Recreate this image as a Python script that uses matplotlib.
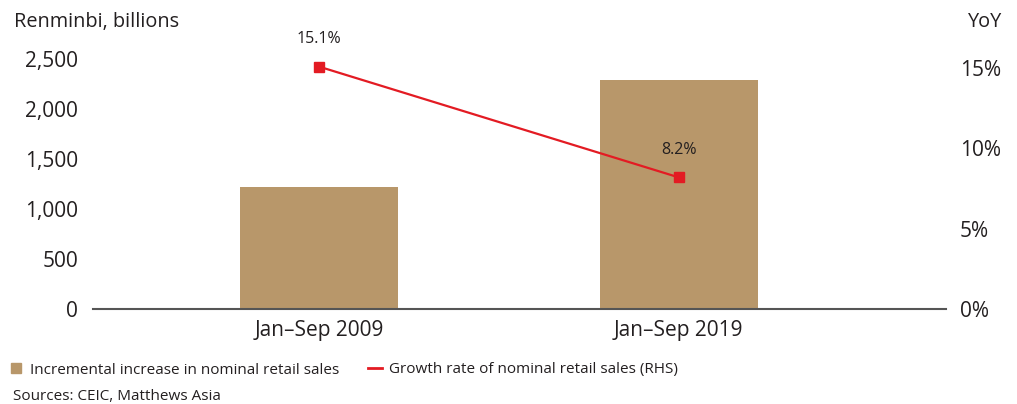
import matplotlib.pyplot as plt
from matplotlib.lines import Line2D

plt.rcParams['font.family'] = ['Open Sans', 'DejaVu Sans']

# data
periods = ['Jan\u2013Sep 2009', 'Jan\u2013Sep 2019']
increase = [1220, 2285]          # renminbi, billions
growth = [15.1, 8.2]             # YoY %
left_ticks = [0, 500, 1000, 1500, 2000, 2500]
right_ticks = [0, 5, 10, 15]

bar_color = '#B8976A'
line_color = '#E31B23'
text_color = '#231F20'

fig = plt.figure(figsize=(10.17, 4.04), dpi=100)
ax = fig.add_axes([0.0914, 0.235, 0.8386, 0.62])
x = list(range(len(periods)))

ax.bar(x, increase, width=0.44, color=bar_color, zorder=2)
ax.set_xlim(-0.628, 1.742)
ax.set_ylim(0, 2500)
ax.set_yticks(left_ticks)
ax.set_yticklabels([f'{v:,}' for v in left_ticks])
ax.set_xticks(x)
ax.set_xticklabels(periods)
ax.tick_params(axis='y', length=0, pad=10.5, labelsize=15, labelcolor=text_color)
ax.tick_params(axis='x', length=0, pad=8, labelsize=15, labelcolor=text_color)
for s in ['top', 'left', 'right']:
    ax.spines[s].set_visible(False)
ax.spines['bottom'].set_color('#555555')
ax.spines['bottom'].set_linewidth(1.5)
ax.spines['bottom'].set_zorder(3)

ax2 = ax.twinx()
ax2.plot(x, growth, color=line_color, linewidth=1.6, marker='s', markersize=7.5, zorder=4)
ax2.set_ylim(0, 15.6)
ax2.set_yticks(right_ticks)
ax2.set_yticklabels([f'{v}%' for v in right_ticks])
ax2.tick_params(axis='y', length=0, pad=10, labelsize=15, labelcolor=text_color)
for s in ['top', 'left', 'right', 'bottom']:
    ax2.spines[s].set_visible(False)
for xi, g in zip(x, growth):
    ax2.annotate(f'{g}%', (xi, g), xytext=(0, 20), textcoords='offset points',
                 ha='center', va='center', fontsize=11.5, color=text_color)

fig.text(14 / 1017, 1 - 22 / 404, 'Renminbi, billions', fontsize=14.3, color=text_color,
         ha='left', va='center')
fig.text(1002 / 1017, 1 - 22 / 404, 'YoY', fontsize=14.3, color=text_color,
         ha='right', va='center')

handles = [
    Line2D([], [], marker='s', linestyle='none', color=bar_color, markersize=7),
    Line2D([], [], color=line_color, linewidth=2),
]
labels = ['Incremental increase in nominal retail sales',
          'Growth rate of nominal retail sales (RHS)']
fig.legend(handles, labels, loc='center left', bbox_to_anchor=(0.009, 1 - 370 / 404),
           ncol=2, frameon=False, fontsize=11, handlelength=0.9, handletextpad=0.45,
           columnspacing=1.9, labelcolor=text_color, borderaxespad=0, borderpad=0)

fig.text(13 / 1017, 1 - 396 / 404, 'Sources: CEIC, Matthews Asia', fontsize=11,
         color=text_color, ha='left', va='center')

fig.savefig('out.png', dpi=100)
